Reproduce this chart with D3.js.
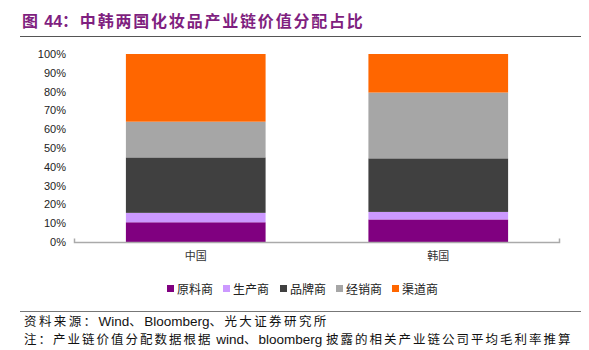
<!DOCTYPE html>
<html><head><meta charset="utf-8">
<script src="https://cdn.jsdelivr.net/npm/d3@7"></script>
<style>body{margin:0;background:#fff}svg{display:block}</style>
</head><body>
<svg id="c" width="589" height="350"></svg>
<script>
const categories = ["中国", "韩国"];
const seriesNames = ["原料商", "生产商", "品牌商", "经销商", "渠道商"];
const seriesColors = ["#800080", "#CC99FF", "#404040", "#A6A6A6", "#FF6600"];
const chinaValues = [10.5, 5, 29.5, 19, 36];
const koreaValues = [12, 4, 28.5, 35, 20.5];
const yTicks = [0,10,20,30,40,50,60,70,80,90,100];
const titleText = "图 44：中韩两国化妆品产业链价值分配占比";
const sourceText = "资料来源：Wind、Bloomberg、光大证券研究所";
const noteText = "注：产业链价值分配数据根据 wind、bloomberg 披露的相关产业链公司平均毛利率推算";

const svg = d3.select("#c");
const cjk = "'Liberation Sans', 'Noto Sans CJK SC', sans-serif";
const latin = "'Liberation Sans', Arial, sans-serif";

function mixedText(sel, str, cjkSpacing, latinSize) {
  const parts = str.match(/[\u3000-\u9fff\uff00-\uffef]+|[^\u3000-\u9fff\uff00-\uffef]+/g);
  parts.forEach(p => {
    const isCjk = /[\u3000-\u9fff\uff00-\uffef]/.test(p);
    const t = sel.append("tspan").attr("letter-spacing", isCjk ? cjkSpacing : 0).text(p);
    if (!isCjk && latinSize) t.attr("font-size", latinSize);
  });
}

// title
mixedText(svg.append("text").attr("x", 22).attr("y", 27)
  .attr("font-family", cjk).attr("font-weight", "bold").attr("font-size", 16)
  .attr("fill", "#7F1F80"), titleText, 1.8);
svg.append("line").attr("x1", 20).attr("x2", 581).attr("y1", 36.5).attr("y2", 36.5)
  .attr("stroke", "#555").attr("stroke-width", 1.2);

const rows = categories.map((c, i) => {
  const vals = i === 0 ? chinaValues : koreaValues;
  const o = {cat: c};
  seriesNames.forEach((s, j) => o[s] = vals[j]);
  return o;
});
const stack = d3.stack().keys(seriesNames)(rows);

const x = d3.scaleBand().domain(categories).range([74, 560]).paddingInner(0.424).paddingOuter(0.214);
const y = d3.scaleLinear().domain([0, 100]).range([242, 54]);

// bars
const g = svg.append("g");
stack.forEach((layer, j) => {
  g.selectAll(null).data(layer).enter().append("rect")
    .attr("x", d => x(d.data.cat))
    .attr("width", x.bandwidth())
    .attr("y", d => y(d[1]))
    .attr("height", d => y(d[0]) - y(d[1]))
    .attr("fill", seriesColors[j]);
});

// y axis labels
const ya = svg.append("g").attr("transform", "translate(66,0)")
  .call(d3.axisLeft(y).tickValues(yTicks).tickFormat(d => d + "%").tickSize(0).tickPadding(0));
ya.select(".domain").remove();
ya.selectAll("text").attr("font-family", latin).attr("font-size", 11).attr("fill", "#222");

// x axis
const xa = svg.append("g").attr("transform", "translate(0,242.5)")
  .call(d3.axisBottom(x).tickSize(0).tickPadding(10));
xa.select(".domain").attr("stroke", "#aaa").attr("stroke-width", 1.5)
  .attr("d", "M74.5,-4V0H559.5V-4");
xa.selectAll("text").attr("font-family", cjk).attr("font-size", 11).attr("fill", "#333");

// legend
const legendX = [167, 223, 280, 336, 392];
const lg = svg.append("g");
seriesNames.forEach((s, j) => {
  lg.append("rect").attr("x", legendX[j]).attr("y", 285).attr("width", 7).attr("height", 7).attr("fill", seriesColors[j]);
  lg.append("text").attr("x", legendX[j] + 10).attr("y", 293.5)
    .attr("font-family", cjk).attr("font-size", 12).attr("fill", "#222").text(s);
});

// footer
svg.append("line").attr("x1", 20).attr("x2", 581).attr("y1", 311.5).attr("y2", 311.5)
  .attr("stroke", "#777").attr("stroke-width", 1.2);
mixedText(svg.append("text").attr("x", 24).attr("y", 326)
  .attr("font-family", cjk).attr("font-size", 12.5).attr("fill", "#111"), sourceText, 2.4, 13.5);
mixedText(svg.append("text").attr("x", 24).attr("y", 344)
  .attr("font-family", cjk).attr("font-size", 12.5).attr("fill", "#111"), noteText, 2.0, 13.5);
</script>
</body></html>
